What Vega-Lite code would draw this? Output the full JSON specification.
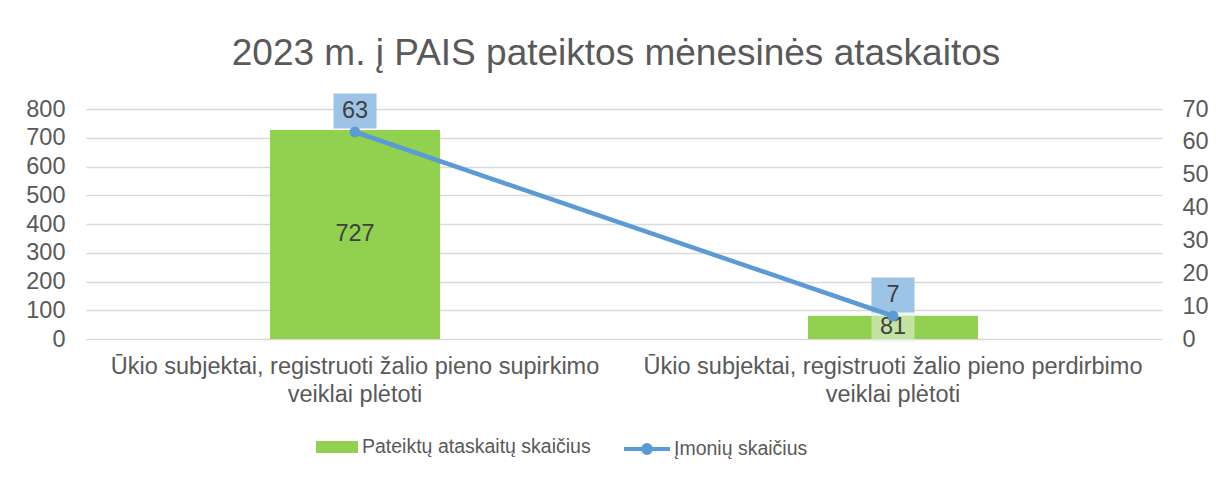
{
  "$schema": "https://vega.github.io/schema/vega-lite/v6.json",
  "width": 1076,
  "height": 230,
  "autosize": {"type": "none"},
  "padding": {"left": 86, "top": 109, "right": 54, "bottom": 138},
  "background": "white",
  "title": {
    "text": "2023 m. į PAIS pateiktos mėnesinės ataskaitos",
    "font": "Liberation Sans",
    "fontSize": 37,
    "fontWeight": "normal",
    "color": "#595959",
    "anchor": "middle",
    "dx": -8,
    "baseline": "alphabetic",
    "offset": -8
  },
  "config": {
    "view": {"stroke": null},
    "font": "Liberation Sans",
    "axis": {"labelFont": "Liberation Sans", "labelColor": "#595959", "labelFontSize": 23.5},
    "legend": {"labelFont": "Liberation Sans", "labelColor": "#595959", "labelFontSize": 19.5, "labelLimit": 500, "padding": 0}
  },
  "data": {
    "values": [
      {"cat": "Ūkio subjektai, registruoti žalio pieno supirkimo veiklai plėtoti", "ataskaitos": 727, "imones": 63},
      {"cat": "Ūkio subjektai, registruoti žalio pieno perdirbimo veiklai plėtoti", "ataskaitos": 81, "imones": 7}
    ]
  },
  "encoding": {
    "x": {
      "field": "cat",
      "type": "nominal",
      "sort": null,
      "scale": {"paddingInner": 0, "paddingOuter": 0},
      "axis": {
        "title": null,
        "labelAngle": 0,
        "labelLimit": 700,
        "domain": false,
        "ticks": false,
        "labelPadding": 15,
        "labelLineHeight": 28,
        "labelBaseline": "top",
        "labelExpr": "[replace(datum.label, ' veiklai plėtoti', ''), 'veiklai plėtoti']"
      }
    }
  },
  "layer": [
    {
      "transform": [{"calculate": "datum.ataskaitos / 2", "as": "mid"}],
      "encoding": {
        "y": {
          "field": "ataskaitos",
          "type": "quantitative",
          "scale": {"domain": [0, 800], "nice": false},
          "axis": {
            "title": null,
            "values": [0, 100, 200, 300, 400, 500, 600, 700, 800],
            "domain": false,
            "ticks": false,
            "labelPadding": 21,
            "grid": true,
            "gridColor": "#D9D9D9",
            "gridWidth": 1.3
          }
        }
      },
      "layer": [
        {
          "mark": {"type": "bar", "width": {"band": 0.316}},
          "encoding": {
            "fill": {
              "datum": "Pateiktų ataskaitų skaičius",
              "type": "nominal",
              "scale": {"range": ["#92D050"]},
              "legend": {
                "orient": "none",
                "legendX": 230,
                "legendY": 317,
                "title": null,
                "symbolType": "M-1,-0.286H1V0.286H-1Z",
                "symbolSize": 1764,
                "symbolStrokeWidth": 0,
                "labelOffset": 4,
                "labelFontSize": 19.5,
                "labelLimit": 500,
                "labelColor": "#595959"
              }
            }
          }
        },
        {
          "transform": [{"filter": "datum.ataskaitos < 100"}],
          "mark": {"type": "point", "shape": "M-1.23,-1H1.23V1H-1.23Z", "size": 1225, "filled": true, "color": "#E2F0D9", "opacity": 0.6, "strokeWidth": 0, "yOffset": -3},
          "encoding": {"y": {"field": "mid", "type": "quantitative"}}
        },
        {
          "mark": {"type": "text", "fontSize": 23.5, "color": "#404040", "baseline": "middle"},
          "encoding": {
            "y": {"field": "mid", "type": "quantitative"},
            "text": {"field": "ataskaitos", "type": "quantitative"}
          }
        }
      ]
    },
    {
      "encoding": {
        "y": {
          "field": "imones",
          "type": "quantitative",
          "scale": {"domain": [0, 70], "nice": false},
          "axis": {
            "orient": "right",
            "title": null,
            "values": [0, 10, 20, 30, 40, 50, 60, 70],
            "domain": false,
            "ticks": false,
            "grid": false,
            "labelPadding": 20
          }
        }
      },
      "layer": [
        {
          "mark": {"type": "point", "shape": "M-1.23,-1H1.23V1H-1.23Z", "size": 1225, "filled": true, "color": "#9DC3E6", "opacity": 1, "strokeWidth": 0, "yOffset": -21}
        },
        {
          "mark": {"type": "line", "strokeWidth": 4.5},
          "encoding": {
            "stroke": {
              "datum": "Įmonių skaičius",
              "type": "nominal",
              "scale": {"range": ["#5B9BD5"]},
              "legend": {
                "orient": "none",
                "legendX": 536,
                "legendY": 315,
                "title": null,
                "symbolType": "M-1,0H1M0.17,0A0.17,0.17 0 1 1 -0.17,0A0.17,0.17 0 1 1 0.17,0Z",
                "symbolSize": 2116,
                "symbolStrokeWidth": 4,
                "symbolFillColor": "#5B9BD5",
                "labelOffset": 2,
                "labelFontSize": 19.5,
                "labelLimit": 500,
                "labelColor": "#595959",
                "encode": {"symbols": {"update": {"fill": {"value": "#5B9BD5"}}}}
              }
            }
          }
        },
        {
          "mark": {"type": "point", "filled": true, "size": 120, "color": "#5B9BD5", "opacity": 1}
        },
        {
          "mark": {"type": "text", "fontSize": 23.5, "color": "#404040", "baseline": "middle", "yOffset": -21},
          "encoding": {"text": {"field": "imones", "type": "quantitative"}}
        }
      ]
    }
  ],
  "resolve": {"scale": {"y": "independent", "fill": "independent", "stroke": "independent"}}
}
